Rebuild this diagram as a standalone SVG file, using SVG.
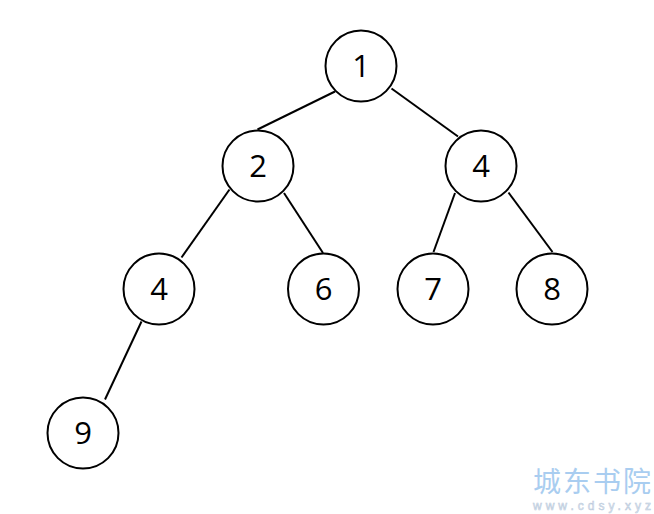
<svg xmlns="http://www.w3.org/2000/svg" width="654" height="514" viewBox="0 0 654 514">
<style>
.n circle{fill:#fff;stroke:#000;stroke-width:2}
.n text{font-family:"Open Sans","Noto Sans",sans-serif;font-size:31px;text-anchor:middle;fill:#000}
#edges line{stroke:#000;stroke-width:2}
.wm{font-family:"Noto Sans CJK SC",sans-serif;fill:#a9cdf0}
</style>
<rect width="654" height="514" fill="#fff"/>
<g id="edges">
<line x1="335" y1="91.5" x2="257.5" y2="129.5"/>
<line x1="391.5" y1="88.5" x2="458" y2="136.5"/>
<line x1="229.5" y1="189.5" x2="181.5" y2="257.5"/>
<line x1="284" y1="193" x2="323" y2="253"/>
<line x1="455" y1="193" x2="433.5" y2="252"/>
<line x1="508.5" y1="192.5" x2="552.5" y2="252"/>
<line x1="141.5" y1="321.5" x2="105" y2="399.5"/>
</g>
<g id="n1" class="n"><circle cx="361" cy="66" r="35.5"/><text x="361" y="77">1</text></g>
<g id="n2" class="n"><circle cx="258" cy="166" r="35.5"/><text x="258" y="177">2</text></g>
<g id="n3" class="n"><circle cx="481" cy="166" r="35.5"/><text x="481" y="177">4</text></g>
<g id="n4" class="n"><circle cx="159" cy="289" r="35.5"/><text x="159" y="300">4</text></g>
<g id="n5" class="n"><circle cx="323.5" cy="289" r="35.5"/><text x="323.5" y="300">6</text></g>
<g id="n6" class="n"><circle cx="433" cy="289" r="35.5"/><text x="433" y="300">7</text></g>
<g id="n7" class="n"><circle cx="552" cy="289" r="35.5"/><text x="552" y="300">8</text></g>
<g id="n8" class="n"><circle cx="83" cy="433" r="35.5"/><text x="83" y="444">9</text></g>
<text class="wm" x="533" y="492" font-size="28" textLength="118">城东书院</text>
<text x="533" y="510" font-family="'Liberation Sans',sans-serif" font-size="12" fill="#e4ecf5" stroke="#b8c8da" stroke-width="0.5" textLength="118">www.cdsy.xyz</text>
</svg>
